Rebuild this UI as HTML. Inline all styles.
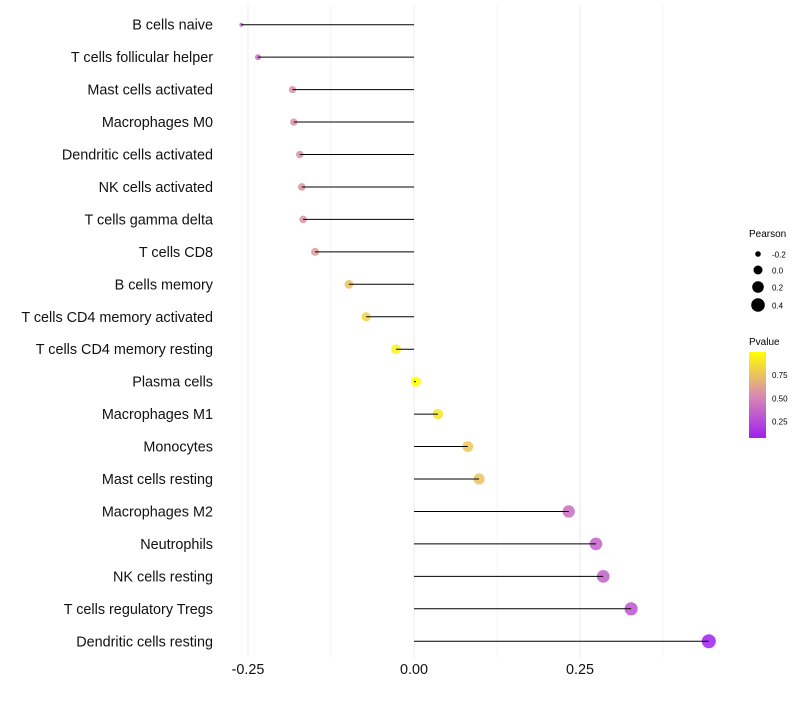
<!DOCTYPE html>
<html><head><meta charset="utf-8"><style>
body{margin:0;background:#fff;font-family:"Liberation Sans",Arial,sans-serif}
svg text{font-family:"Liberation Sans",Arial,sans-serif}
</style></head><body>
<svg id="chart" width="800" height="700">
<defs><linearGradient id="pg" x1="0" y1="1" x2="0" y2="0">
<stop offset="0" stop-color="#a020f0"/><stop offset="0.5" stop-color="#d98cb0"/><stop offset="1" stop-color="#ffff00"/></linearGradient></defs>
<g id="grid"></g><g id="marks"></g><g id="ylabels"></g><g id="xlabels"></g>
<g>
<text x="749" y="237" font-size="10" fill="#000">Pearson</text>
<circle cx="758" cy="254" r="2.8" fill="#000"/><text x="772" y="257.5" font-size="8">-0.2</text>
<circle cx="758" cy="270" r="4.5" fill="#000"/><text x="772" y="273.5" font-size="8">0.0</text>
<circle cx="758" cy="287" r="5.8" fill="#000"/><text x="772" y="290.5" font-size="8">0.2</text>
<circle cx="758" cy="305" r="6.8" fill="#000"/><text x="772" y="308.5" font-size="8">0.4</text>
</g>
<g>
<text x="749" y="345" font-size="10">Pvalue</text>
<rect x="749" y="352" width="17" height="86" fill="url(#pg)"/>
<text x="772" y="378" font-size="8">0.75</text>
<text x="772" y="401.5" font-size="8">0.50</text>
<text x="772" y="424.5" font-size="8">0.25</text>
</g>
</svg>
<script>
const categories=["B cells naive","T cells follicular helper","Mast cells activated","Macrophages M0","Dendritic cells activated","NK cells activated","T cells gamma delta","T cells CD8","B cells memory","T cells CD4 memory activated","T cells CD4 memory resting","Plasma cells","Macrophages M1","Monocytes","Mast cells resting","Macrophages M2","Neutrophils","NK cells resting","T cells regulatory  Tregs","Dendritic cells resting"];
const pearson=[-0.260,-0.235,-0.183,-0.181,-0.172,-0.169,-0.167,-0.149,-0.098,-0.072,-0.027,0.003,0.036,0.081,0.098,0.233,0.274,0.285,0.327,0.444];
const pvalues=[0.35,0.4,0.55,0.56,0.57,0.57,0.57,0.6,0.75,0.82,0.95,1.0,0.9,0.78,0.75,0.4,0.36,0.35,0.3,0.08];
const xTicks=[-0.25,0,0.25];
const xTickLabels=["-0.25","0.00","0.25"];
const NS="http://www.w3.org/2000/svg";
function xs(v){return 414+v*664;}
function ys(i){return 24.7+i*32.45;}
const pmin=Math.min(...pearson),pmax=Math.max(...pearson);
function rs(v){const t=(v-pmin)/(pmax-pmin);return 2+5*Math.sqrt(Math.max(0,t));}
function lerp(a,b,t){return a.map((x,k)=>Math.round(x+(b[k]-x)*t));}
function col(p){const t=(p-0.08)/0.92;const c0=[160,32,240],c1=[217,140,176],c2=[255,255,0];
const c=t<0.5?lerp(c0,c1,t/0.5):lerp(c1,c2,(t-0.5)/0.5);return `rgb(${c})`;}
function mk(tag,attrs,parent){const e=document.createElementNS(NS,tag);for(const k in attrs)e.setAttribute(k,attrs[k]);parent.appendChild(e);return e;}
const grid=document.getElementById('grid'),marks=document.getElementById('marks'),yl=document.getElementById('ylabels'),xl=document.getElementById('xlabels');
[-0.25,-0.125,0,0.125,0.25,0.375].forEach(v=>{const l=mk('line',{x1:xs(v),x2:xs(v),y1:5,y2:658,stroke:'#ebebeb','stroke-width':v*8%2==0?1:0.5},grid);

});
xTicks.forEach((v,i)=>{const t=mk('text',{x:xs(v),y:674,'font-size':14.4,'text-anchor':'middle',fill:'#111'},xl);t.textContent=xTickLabels[i];

});
categories.forEach((c,i)=>{const y=ys(i);
const t=mk('text',{x:213,y:y+5,'font-size':14.4,'text-anchor':'end',fill:'#111'},yl);t.textContent=c;


const p=mk('circle',{cx:xs(pearson[i]),cy:y,r:rs(pearson[i]),fill:col(pvalues[i]),'fill-opacity':0.85},marks);


const l=mk('line',{x1:xs(0),x2:xs(pearson[i]),y1:y,y2:y,stroke:'#000','stroke-width':1},marks);

});
</script>
</body></html>
